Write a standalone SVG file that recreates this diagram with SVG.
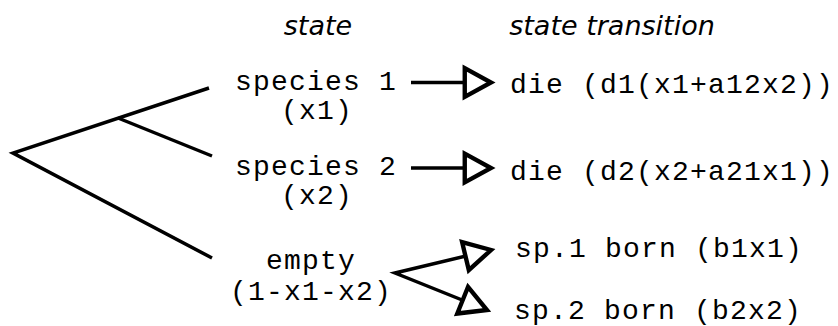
<svg xmlns="http://www.w3.org/2000/svg" width="838" height="326" viewBox="0 0 838 326">
  <style>
    .mono { font-family: "Liberation Mono", "Courier New", monospace; font-size: 28px; letter-spacing: 1.2px; fill: #000; }
    .title { font-family: "DejaVu Sans", "Liberation Sans", sans-serif; font-style: italic; font-size: 27px; fill: #000; }
    .edge { fill: none; stroke: #000; stroke-width: 3.5; stroke-linejoin: miter; }
  </style>
  <defs>
    <marker id="tri" markerUnits="userSpaceOnUse" markerWidth="40" markerHeight="40" viewBox="-4 -4 32 32" refX="21" refY="11.5" orient="auto-start-reverse">
      <path d="M0,0 L21,11.5 L0,23 Z" fill="#fff" stroke="#000" stroke-width="3.5" stroke-linejoin="miter"/>
    </marker>
  </defs>
  <rect width="838" height="326" fill="#fff"/>

  <g id="title-state"><text class="title" x="318" y="35" text-anchor="middle">state</text></g>
  <g id="title-transition"><text class="title" x="612" y="35" text-anchor="middle">state transition</text></g>

  <g id="connectors">
    <path class="edge" d="M209,88 L13,153 L212,258"/>
    <path class="edge" d="M118,118 L212,156"/>
    <path class="edge" d="M411,82.5 L491,82.5" marker-end="url(#tri)"/>
    <path class="edge" d="M411,168 L491,168" marker-end="url(#tri)"/>
    <path class="edge" d="M491,250 L395,273 L487,310" marker-start="url(#tri)" marker-end="url(#tri)"/>
  </g>

  <g id="species1">
    <text class="mono" x="316" y="90" text-anchor="middle">species 1</text>
    <text class="mono" x="317" y="119" text-anchor="middle">(x1)</text>
  </g>
  <g id="species2">
    <text class="mono" x="316" y="175" text-anchor="middle">species 2</text>
    <text class="mono" x="317" y="204" text-anchor="middle">(x2)</text>
  </g>
  <g id="empty">
    <text class="mono" x="311" y="269" text-anchor="middle">empty</text>
    <text class="mono" x="311" y="300" text-anchor="middle">(1-x1-x2)</text>
  </g>
  <g id="die1"><text class="mono" x="510" y="93">die (d1(x1+a12x2))</text></g>
  <g id="die2"><text class="mono" x="510" y="180">die (d2(x2+a21x1))</text></g>
  <g id="born1"><text class="mono" x="515" y="257">sp.1 born (b1x1)</text></g>
  <g id="born2"><text class="mono" x="514" y="319">sp.2 born (b2x2)</text></g>
</svg>
